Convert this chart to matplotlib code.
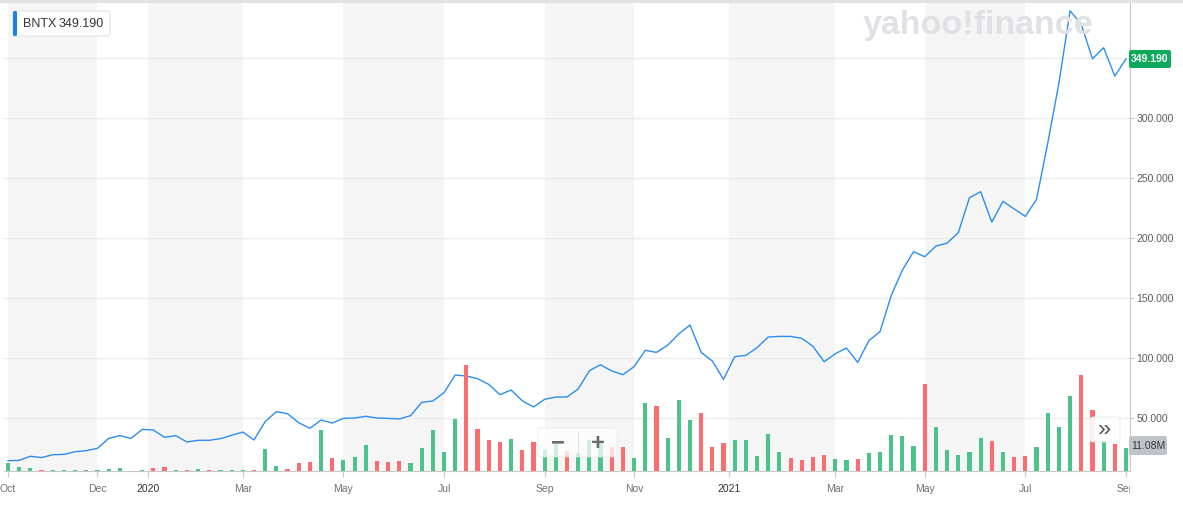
import matplotlib
matplotlib.use('Agg')
import matplotlib.pyplot as plt
import numpy as np
from matplotlib.patches import Rectangle, FancyBboxPatch
from matplotlib.transforms import Bbox, IdentityTransform
from matplotlib.ticker import FuncFormatter

plt.rcParams['font.family'] = ['Liberation Sans', 'DejaVu Sans']

# weekly close, BNTX (USD)
price = [14.4, 14.7, 18.1, 17.0, 19.4, 19.7, 21.9, 22.8, 24.7, 33.0,
         35.3, 33.0, 40.5, 40.0, 33.9, 35.3, 30.0, 31.4, 31.4, 32.8,
         35.6, 38.3, 31.7, 47.0, 55.3, 53.6, 46.1, 41.4, 48.3, 45.8,
         49.7, 50.0, 51.4, 50.0, 49.7, 49.2, 51.9, 63.0, 64.2, 71.1,
         85.8, 85.0, 82.8, 78.0, 69.4, 73.3, 64.4, 59.2, 65.6, 67.5,
         67.5, 74.2, 89.4, 94.4, 89.2, 86.1, 92.8, 106.4, 104.7, 110.6,
         120.0, 127.5, 104.7, 97.5, 82.2, 101.1, 102.2, 108.6, 117.5, 118.0,
         118.0, 116.4, 109.7, 96.9, 103.6, 108.3, 96.4, 114.4, 122.0, 152.0,
         173.3, 188.6, 184.4, 193.3, 195.8, 204.4, 233.6, 238.6, 213.3, 230.6,
         224.2, 218.0, 232.2, 279.0, 329.0, 389.4, 378.0, 349.4, 358.6, 335.0,
         349.19]

# weekly volume in millions
volume = [3.9, 1.9, 1.4, 0.3, 0.3, 0.3, 0.3, 0.3, 0.6, 1.1,
          1.6, 0.1, 0.3, 1.6, 2.0, 0.6, 0.6, 1.1, 0.3, 0.3,
          0.6, 0.6, 0.6, 10.6, 2.4, 1.1, 3.9, 4.4, 19.6, 6.3,
          5.4, 6.8, 12.4, 4.9, 4.4, 4.9, 3.9, 11.1, 19.6, 9.2,
          24.8, 50.5, 20.1, 14.9, 13.9, 15.3, 10.1, 13.9, 10.1, 13.9,
          9.7, 8.7, 14.9, 13.9, 11.5, 11.5, 6.3, 32.4, 31.0, 15.8,
          33.9, 24.4, 27.7, 11.5, 13.4, 14.9, 14.9, 7.3, 17.7, 9.2,
          6.3, 5.4, 6.8, 7.7, 5.8, 5.4, 5.8, 8.7, 9.2, 17.2,
          16.8, 12.0, 41.5, 21.0, 10.1, 7.7, 9.2, 15.8, 14.4, 9.2,
          6.8, 7.3, 11.5, 27.4, 21.0, 35.8, 45.7, 29.1, 14.5, 13.0,
          11.08]

# 1 = up week (green), 0 = down week (red)
up = [1, 1, 1, 0, 1, 1, 1, 1, 1, 1,
      1, 1, 1, 0, 0, 1, 0, 1, 0, 1,
      1, 1, 0, 1, 1, 0, 0, 0, 1, 0,
      1, 1, 1, 0, 0, 0, 1, 1, 1, 1,
      1, 0, 0, 0, 0, 1, 0, 0, 1, 1,
      0, 1, 1, 1, 0, 0, 1, 1, 0, 1,
      1, 1, 0, 0, 0, 1, 1, 1, 1, 1,
      0, 0, 0, 0, 1, 1, 0, 1, 1, 1,
      1, 1, 0, 1, 1, 1, 1, 1, 0, 1,
      0, 0, 1, 1, 1, 1, 0, 0, 1, 0,
      1]

tick_labels = ['Oct', 'Dec', '2020', 'Mar', 'May', 'Jul', 'Sep', 'Nov',
               '2021', 'Mar', 'May', 'Jul', 'Sep']
tick_idx = [0, 8, 12.5, 21, 30, 39, 48, 56, 64.5, 74, 82, 91, 100]
price_ticks = [50, 100, 150, 200, 250, 300, 350]
ticker = 'BNTX'
last = '349.190'
last_vol = '11.08M'

W, H = 1183, 508
PX = IdentityTransform()


def box(x0, y0, x1, y1, r=0, **kw):
    # pixel box, y measured from top of image
    p = FancyBboxPatch((x0, H - y1), x1 - x0, y1 - y0,
                       boxstyle=f'round,pad=0,rounding_size={r}',
                       transform=PX, **kw)
    fig.add_artist(p)


def label(x, y, s, **kw):
    fig.text(x, H - y, s, transform=PX, **kw)


fig = plt.figure(figsize=(W / 100, H / 100), dpi=100)
ax = fig.add_axes([4 / W, 1 - 471 / H, 1126 / W, 469 / H])
axv = ax.twinx()

idx = np.arange(len(price))
ax.set_xlim(-0.36, 100.36)
ax.set_ylim(5.83, 396.7)
axv.set_ylim(0, 222.8)

for k in range(0, len(tick_idx) - 1, 2):
    ax.axvspan(tick_idx[k], tick_idx[k + 1], color='#f5f5f5', lw=0, zorder=0.2)

ax.plot(idx, price, color='#2b8ef0', lw=1.0, zorder=2)

cols = ['#4cc38a' if u else '#fc6d70' for u in up]
axv.bar(idx, volume, width=0.37, color=cols, lw=0)

ax.set_axisbelow(True)
ax.set_yticks(price_ticks)
ax.yaxis.grid(True, color='#ebebeb', lw=1)
ax.yaxis.set_major_formatter(FuncFormatter(lambda v, _: '' if v >= 350 else f'{v:.3f}'))
ax.yaxis.tick_right()
ax.set_xticks(tick_idx)
ax.set_xticklabels(tick_labels)

for s in ['top', 'left']:
    ax.spines[s].set_visible(False)
for s in ['right', 'bottom']:
    ax.spines[s].set_color('#c8c8c8')
for s in axv.spines.values():
    s.set_visible(False)
axv.set_yticks([])

ax.tick_params(axis='y', length=3, color='#c8c8c8', pad=1.5, labelsize=7.5, labelcolor='#5b5b5b')
ax.tick_params(axis='x', length=4, color='#c8c8c8', pad=5, labelsize=7.5, labelcolor='#707070')

clip = Bbox.from_extents(0, 0, 1130, H)
for t in ax.get_xticklabels():
    if t.get_text().isdigit():
        t.set_color('#333333')
    t.set_clip_box(clip)
    t.set_clip_on(True)

# chrome round the chart
fig.add_artist(Rectangle((0, H - 3), W, 3, transform=PX, color='#e2e2e2', lw=0))
label(978, 34, 'yahoo!finance', fontsize=24.5, fontweight='bold', color='#dfe1e5',
      ha='center', va='baseline')

box(13, 11, 110, 36, r=3, facecolor='white', edgecolor='#e2e2e2', lw=0.8)
box(13, 11, 17, 36, r=1.5, facecolor='#1a7ff0', lw=0)
label(23, 24, ticker, fontsize=9, color='#333333', va='center')
label(59, 24, last, fontsize=9, color='#333333', va='center')

box(1129, 50, 1171, 68, r=2, facecolor='#0daa5c', lw=0)
label(1150, 59, last, fontsize=7.5, fontweight='bold', color='white', ha='center', va='center')

box(1129, 436, 1167, 455, r=2, facecolor='#bfc3ca', lw=0)
label(1148, 446, last_vol, fontsize=7.5, color='#3a3a3a', ha='center', va='center')

box(538, 428, 617, 457, r=3, facecolor='white', edgecolor='#e6e6e6', lw=0.6, alpha=0.75)
fig.add_artist(Rectangle((578, H - 455), 0.8, 24, transform=PX, color='#e0e0e0', lw=0))
label(558, 443, '\u2212', fontsize=17, fontweight='bold', color='#6b6b6b', ha='center', va='center')
label(598, 443, '+', fontsize=17, fontweight='bold', color='#6b6b6b', ha='center', va='center')

box(1090, 417, 1120, 442, r=3, facecolor='white', edgecolor='#e6e6e6', lw=0.6, alpha=0.9)
label(1105, 430, '\u00bb', fontsize=17, color='#555555', ha='center', va='center')

fig.savefig('out.png', dpi=100)
